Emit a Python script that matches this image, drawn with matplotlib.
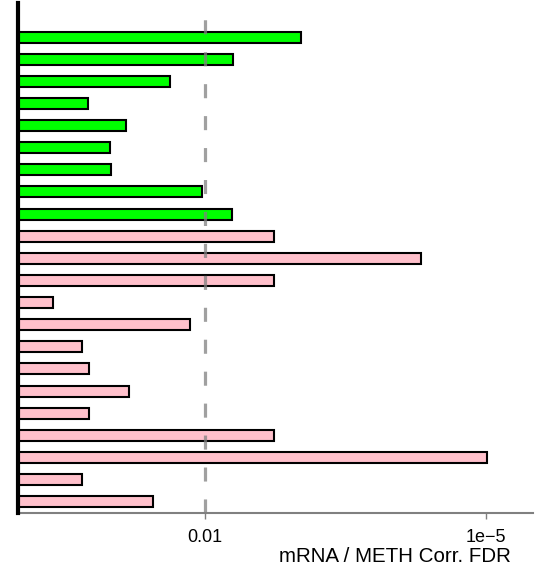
import numpy as np
import matplotlib.pyplot as plt

plt.rcParams['font.family'] = ['Liberation Sans', 'DejaVu Sans']

# -log10(FDR) per gene, top to bottom
green_vals = [3.02, 2.30, 1.63, 0.75, 1.16, 0.99, 1.00, 1.97, 2.29]
pink_vals = [2.74, 4.30, 2.74, 0.38, 1.84, 0.69, 0.76, 1.19, 0.76, 2.74, 5.01, 0.69, 1.44]
tick_vals = [2, 5]
tick_labels = ['0.01', '1e\u22125']
cutoff = 2

vals = green_vals + pink_vals
colors = ['#00FF00'] * len(green_vals) + ['pink'] * len(pink_vals)
ypos = np.arange(len(vals))

fig = plt.figure(figsize=(5.6, 5.79), dpi=100)
ax = fig.add_axes([0.0316, 0.1145, 0.9202, 0.8803])

ax.barh(ypos, vals, height=0.5, color=colors, edgecolor='black', linewidth=1.5, zorder=2)
ax.axvline(cutoff, color='gray', alpha=0.75, linewidth=2.3, dashes=(4.4, 5.6), zorder=3)

ax.set_xlim(0, 5.5)
ax.set_ylim(len(vals) - 0.5, -1.54)

ax.set_xticks(tick_vals)
ax.set_xticklabels(tick_labels, fontsize=13)
ax.tick_params(axis='x', length=4, color='gray', width=1, pad=8)
ax.set_yticks([])

for s in ['top', 'right']:
    ax.spines[s].set_visible(False)
ax.spines['bottom'].set_color('gray')
ax.spines['bottom'].set_linewidth(1.5)
ax.spines['left'].set_linewidth(3)
ax.spines['left'].set_zorder(5)

ax.text(0.958, -0.085, 'mRNA / METH Corr. FDR', transform=ax.transAxes,
        ha='right', va='center', fontsize=14.8)

fig.savefig('out.png', dpi=100)
